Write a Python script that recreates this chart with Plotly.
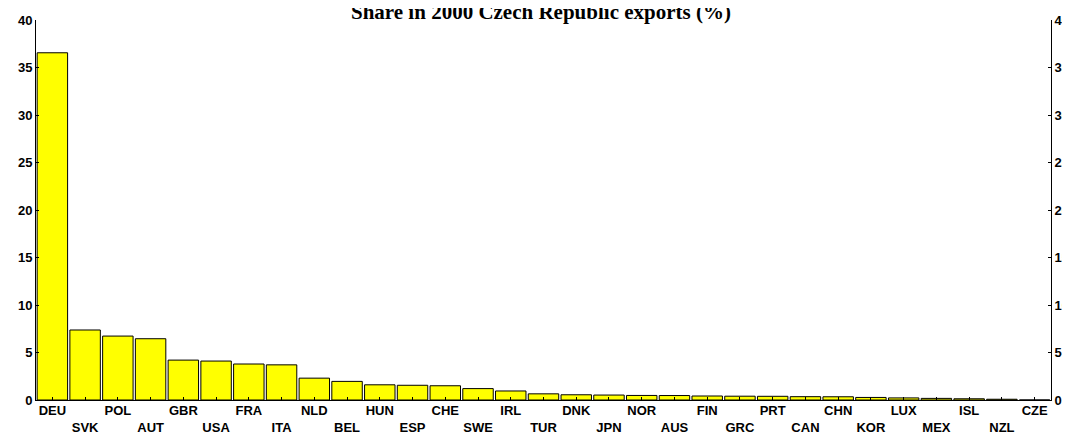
import plotly.graph_objects as go

countries = ["DEU", "SVK", "POL", "AUT", "GBR", "USA", "FRA", "ITA", "NLD", "BEL",
             "HUN", "ESP", "CHE", "SWE", "IRL", "TUR", "DNK", "JPN", "NOR", "AUS",
             "FIN", "GRC", "PRT", "CAN", "CHN", "KOR", "LUX", "MEX", "ISL", "NZL", "CZE"]
shares = [36.55, 7.37, 6.73, 6.45, 4.2, 4.1, 3.79, 3.7, 2.3, 1.96,
          1.6, 1.55, 1.5, 1.2, 0.95, 0.65, 0.55, 0.52, 0.48, 0.47,
          0.42, 0.40, 0.39, 0.35, 0.34, 0.27, 0.22, 0.17, 0.13, 0.08, 0.0]
y_ticks = [0, 5, 10, 15, 20, 25, 30, 35, 40]
title_text = "Share in 2000 Czech Republic exports (%)"

tick_labels = [c if i % 2 == 0 else "<br>" + c for i, c in enumerate(countries)]

fig = go.Figure()
fig.add_trace(go.Bar(
    x=countries, y=shares,
    marker=dict(color="#ffff00", line=dict(color="#000000", width=1)),
    showlegend=False,
))
# invisible trace on secondary axis so the right axis is drawn
fig.add_trace(go.Scatter(x=[countries[0]], y=[0], yaxis="y2", mode="lines",
                         line=dict(width=0), showlegend=False, hoverinfo="skip"))

font_tick = dict(family="Liberation Sans, Arial", size=13, color="#000000", weight="bold")

fig.update_layout(
    template="none",
    width=1070, height=435,
    margin=dict(l=28, r=27, t=12, b=43, autoexpand=False),
    paper_bgcolor="white", plot_bgcolor="white",
    bargap=0.07,
    annotations=[dict(
        text=title_text, xref="paper", yref="paper", x=0.498, y=1.0215,
        xanchor="center", yanchor="middle", showarrow=False,
        font=dict(family="Liberation Serif, Times New Roman", size=21,
                  color="#000", weight="bold"),
    )],
    xaxis=dict(
        tickmode="array", tickvals=countries, ticktext=tick_labels,
        range=[-0.5, len(countries) - 0.5],
        ticks="inside", ticklen=3, tickcolor="#000",
        showline=True, linecolor="#000", linewidth=1,
        showgrid=False, zeroline=False, tickangle=0, automargin=False,
        tickfont=font_tick, ticklabelstandoff=-2,
    ),
    yaxis=dict(
        range=[0, 40], tickvals=y_ticks, ticks="inside", ticklen=3, tickcolor="#000",
        showline=True, linecolor="#000", linewidth=1, showgrid=False, zeroline=False,
        tickfont=font_tick, automargin=False,
    ),
    yaxis2=dict(
        range=[0, 40], tickvals=y_ticks, ticks="inside", ticklen=3, tickcolor="#000",
        showline=True, linecolor="#000", linewidth=1, showgrid=False, zeroline=False,
        overlaying="y", side="right", anchor="x", automargin=False,
        tickfont=font_tick,
    ),
)

fig.write_html("out.html")
